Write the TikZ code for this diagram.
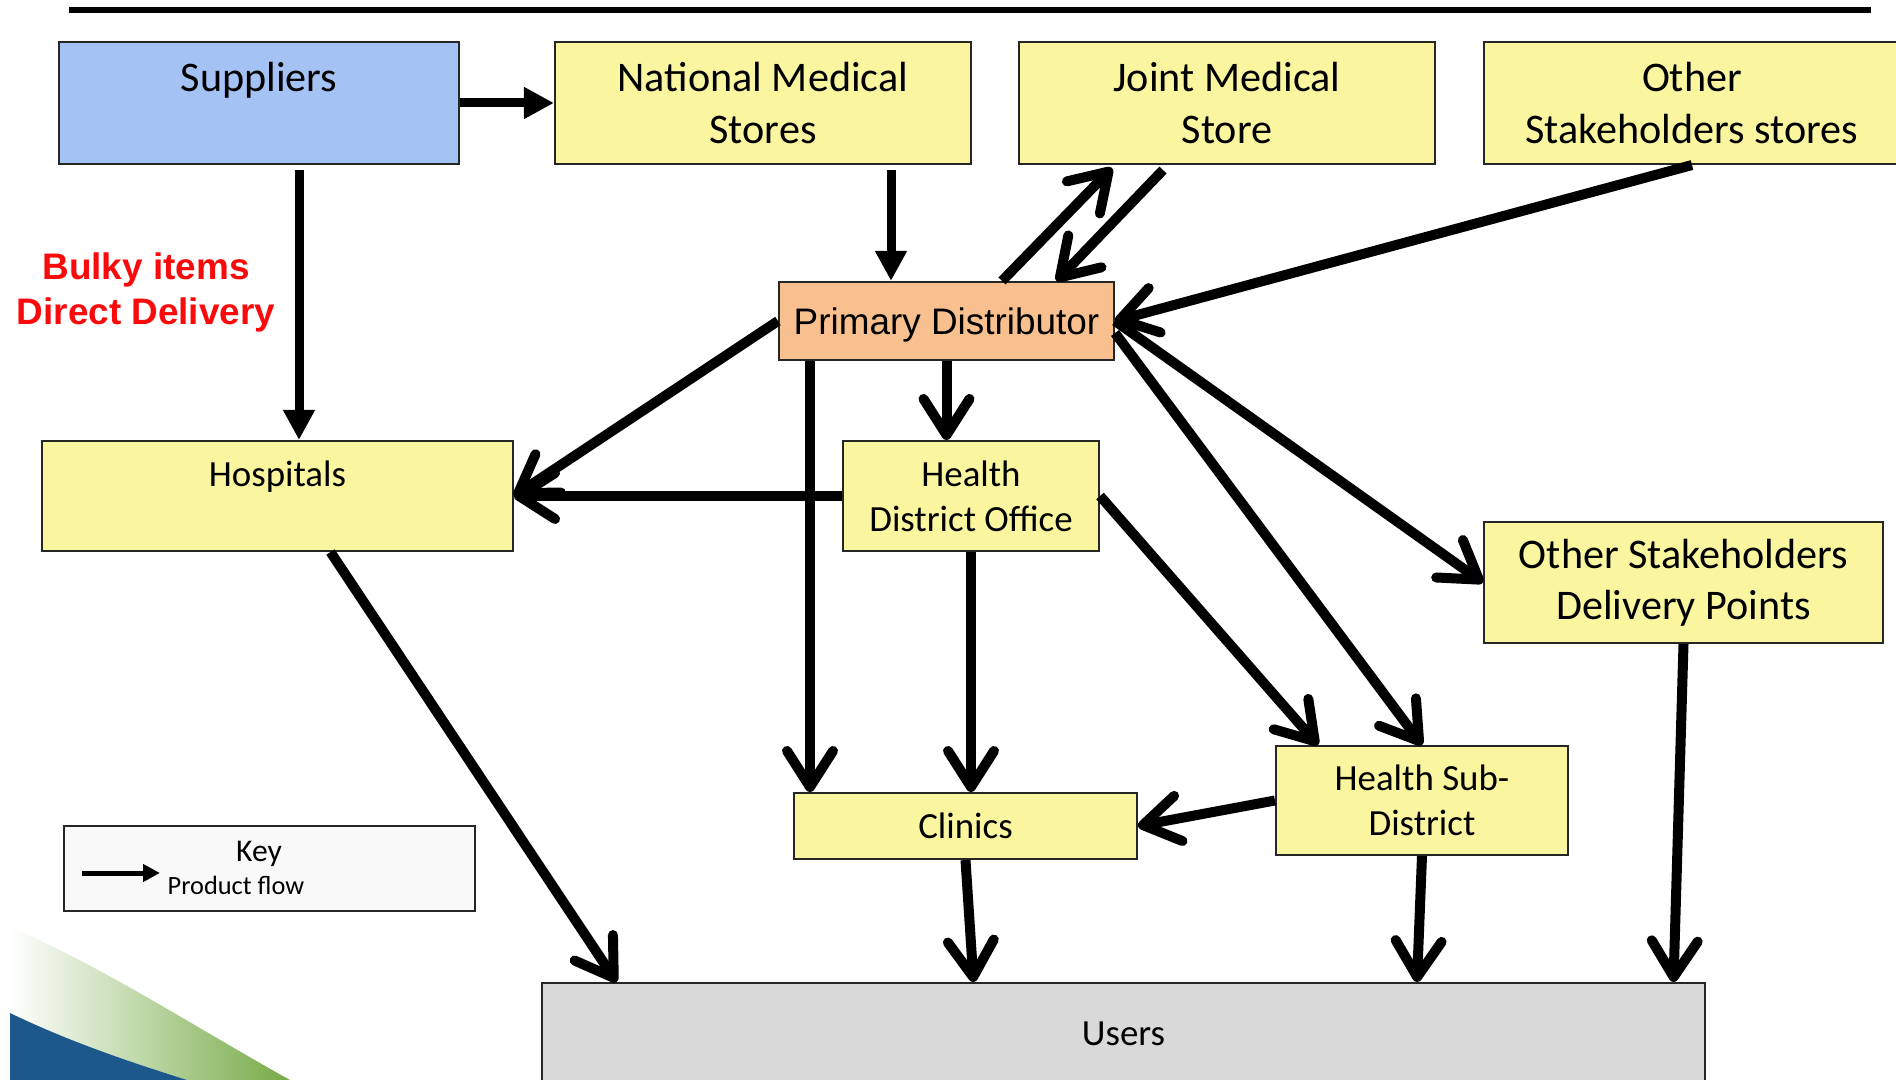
\documentclass[tikz,border=0pt]{standalone}
\usepackage{fontspec}
\setmainfont{Carlito}
\newfontfamily\arialfont{Liberation Sans}
\usepackage{tikz}
\usepackage{xcolor}
\usetikzlibrary{arrows.meta, positioning}
\definecolor{supblue}{RGB}{164,194,244}
\definecolor{boxyellow}{RGB}{250,246,160}
\definecolor{pdorange}{RGB}{249,192,143}
\definecolor{usergray}{RGB}{217,217,217}
\definecolor{bulkyred}{RGB}{250,10,10}
\definecolor{swblue}{RGB}{28,88,140}
\definecolor{swgreen}{RGB}{118,170,70}

\begin{document}
\begin{tikzpicture}[
          box/.style={draw=black!85,line width=0.6pt,fill=boxyellow,align=center,
                      inner sep=0pt,font=\fontsize{10.5}{12.8}\selectfont},
          big/.style={font=\fontsize{12}{14.6}\selectfont},
          flow/.style={-{Straight Barb[length=0.36cm,width=0.46cm,round]},line width=0.1cm},
          feed/.style={-{Triangle[length=0.3cm,width=0.3cm]},line width=0.09cm}]
        \useasboundingbox (0,0) rectangle (18.96,-10.80);
        \shade[left color=white,right color=swgreen](0.10,-9.27)
          .. controls (1.00,-9.65) and (2.00,-10.30) .. (2.90,-10.80)
          -- (1.87,-10.80) .. controls (1.30,-10.62) and (0.70,-10.42) .. (0.10,-10.13) -- cycle;
        \fill[swblue](0.10,-10.13) .. controls (0.70,-10.42) and (1.30,-10.62) .. (1.87,-10.80)
          -- (0.10,-10.80) -- cycle;
        \draw[line width=0.06cm](0.69,-0.10)--(18.71,-0.10);
        \node[box,big,fill=supblue,minimum width=4.00cm,minimum height=1.22cm](sup) at (2.59,-1.03){Suppliers\\~};
        \node[box,big,minimum width=4.16cm,minimum height=1.22cm](nms) at (7.63,-1.03){National Medical\\Stores};
        \node[box,big,minimum width=4.16cm,minimum height=1.22cm](jms) at (12.27,-1.03){Joint Medical\\Store};
        \node[box,big,minimum width=4.16cm,minimum height=1.22cm](oss) at (16.92,-1.03){Other\\Stakeholders stores};
        \node[box,fill=pdorange,minimum width=3.35cm,minimum height=0.78cm,text depth=0pt,
              font=\arialfont\fontsize{10.5}{12.6}\selectfont](pd) at (9.465,-3.21){Primary Distributor};
        \node[box,minimum width=4.71cm,minimum height=1.10cm](hosp) at (2.775,-4.96){Hospitals\\~};
        \node[box,minimum width=2.56cm,minimum height=1.10cm](hdo) at (9.71,-4.96){Health\\District Office};
        \node[box,big,minimum width=3.99cm,minimum height=1.21cm](osdp) at (16.835,-5.825){Other Stakeholders\\Delivery Points};
        \node[box,minimum width=3.43cm,minimum height=0.66cm](clin) at (9.655,-8.26){Clinics};
        \node[box,minimum width=2.92cm,minimum height=1.09cm](hsd) at (14.22,-8.005){Health Sub-\\District};
        \node[box,fill=usergray,minimum width=11.63cm,minimum height=1.02cm](users) at (11.235,-10.34){Users};
        \node[draw=black!85,line width=0.8pt,fill=gray!5,minimum width=4.11cm,minimum height=0.85cm](key) at (2.695,-8.685){};
        \node[font=\fontsize{9}{10}\selectfont](keytitle) at (2.59,-8.54){Key};
        \node[font=\fontsize{7.5}{9}\selectfont](keytext) at (2.36,-8.85){Product flow};
        \coordinate (k1) at (0.82,-8.73);
        \coordinate (k2) at (1.60,-8.73);
        \node[font=\arialfont\bfseries\fontsize{10.5}{12.8}\selectfont,text=bulkyred,align=center](bulky) at (1.46,-2.92){Bulky items\\Direct Delivery};
        \draw[feed](sup.east)--(nms.west);
        \draw[feed]([xshift=0.4cm,yshift=-0.05cm]sup.south)--([xshift=0.4cm]sup.south |- hosp.north);
        \draw[feed]([xshift=1.28cm,yshift=-0.05cm]nms.south)--([xshift=1.28cm]nms.south |- pd.north);
        \draw[flow]([xshift=0.555cm]pd.north)--([xshift=-1.15cm,yshift=-0.03cm]jms.south);
        \draw[flow]([xshift=-0.64cm,yshift=-0.05cm]jms.south)--([xshift=1.1cm]pd.north);
        \draw[flow](oss.south)--(pd.east);
        \draw[flow](pd.west)--(hosp.east);
        \draw[flow](hdo.west)--(hosp.east);
        \draw[flow]([xshift=-1.365cm]pd.south)--([xshift=-1.365cm]pd.south |- clin.north);
        \draw[flow](pd.south)--(pd.south |- hdo.north);
        \draw[flow](hdo.south)--(hdo.south |- clin.north);
        \draw[flow](hdo.east)--([xshift=-1.04cm]hsd.north);
        \draw[flow]([yshift=-0.12cm]pd.east)--(hsd.north);
        \draw[flow](pd.east)--(osdp.west);
        \draw[flow](hsd.west)--(clin.east);
        \draw[flow]([xshift=0.53cm]hosp.south)--([xshift=-5.07cm]users.north);
        \draw[flow](clin.south)--([xshift=-1.5cm]users.north);
        \draw[flow](hsd.south)--([xshift=2.935cm]users.north);
        \draw[flow](osdp.south)--([xshift=5.5cm]users.north);
        \draw[-{Triangle[length=0.17cm,width=0.17cm]},line width=0.05cm](k1)--(k2);
      \end{tikzpicture}
\end{document}
